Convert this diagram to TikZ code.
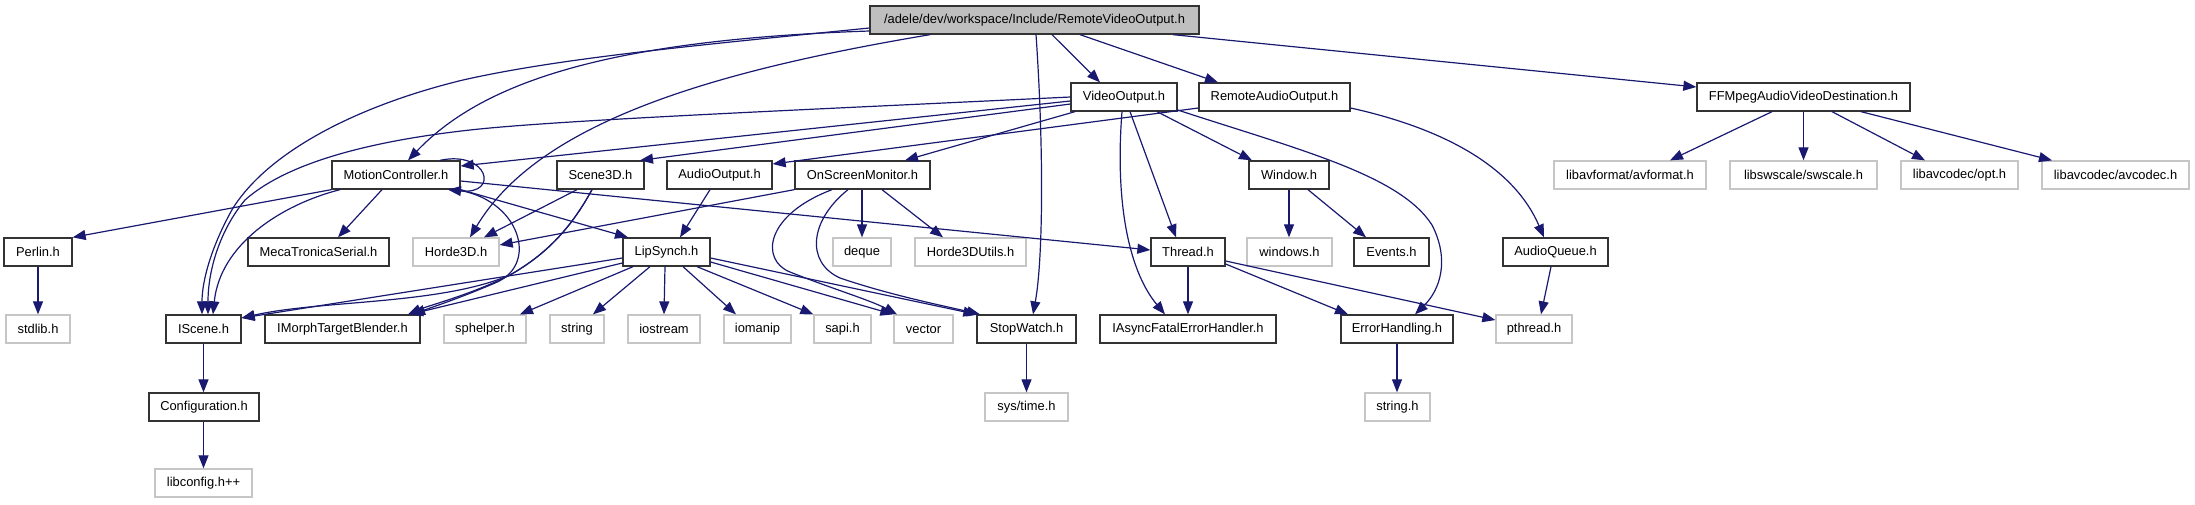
\documentclass[tikz,border=0pt]{standalone}
\usepackage{fontspec}
\setmainfont{Liberation Sans}
\usetikzlibrary{arrows.meta}
\definecolor{edgec}{HTML}{191970}
\definecolor{rootfill}{HTML}{BFBFBF}
\definecolor{graybd}{HTML}{C6C6C6}
\tikzset{
  box/.style={rectangle, inner sep=0pt, minimum height=28pt, line width=1.3pt, font=\fontsize{12.9}{15}\selectfont, text=black},
  nb/.style={box, draw=black!80},
  ng/.style={box, draw=graybd},
  nroot/.style={box, draw=black!80, fill=rootfill},
  e/.style={draw=edgec, line width=1.2pt, -{Triangle[length=13pt,width=10pt]}},
}
\begin{document}
\begin{tikzpicture}[x=1pt,y=-1pt]
\useasboundingbox (0,0) rectangle (2195,504);
% row 1
\node[nroot, minimum width=329pt] (root) at (1034.5,20) {/adele/dev/workspace/Include/RemoteVideoOutput.h};
% row 2
\node[nb, minimum width=106pt] (vo) at (1124,97) {VideoOutput.h};
\node[nb, minimum width=151pt] (rao) at (1274.5,97) {RemoteAudioOutput.h};
\node[nb, minimum width=213pt] (ff) at (1803.5,97) {FFMpegAudioVideoDestination.h};
% row 3
\node[nb, minimum width=128pt] (mc) at (396,175) {MotionController.h};
\node[nb, minimum width=87pt] (s3d) at (600.5,175) {Scene3D.h};
\node[nb, minimum width=105pt] (ao) at (719.5,175) {AudioOutput.h};
\node[nb, minimum width=135pt] (osm) at (862.5,175) {OnScreenMonitor.h};
\node[nb, minimum width=80pt] (win) at (1289,175) {Window.h};
\node[ng, minimum width=152pt] (avf) at (1630,175) {libavformat/avformat.h};
\node[ng, minimum width=147pt] (sws) at (1803.5,175) {libswscale/swscale.h};
\node[ng, minimum width=117pt] (opt) at (1959.5,175) {libavcodec/opt.h};
\node[ng, minimum width=147pt] (avc) at (2115.5,175) {libavcodec/avcodec.h};
% row 4
\node[nb, minimum width=68pt] (perlin) at (38,252) {Perlin.h};
\node[nb, minimum width=141pt] (meca) at (318.5,252) {MecaTronicaSerial.h};
\node[ng, minimum width=86pt] (horde) at (456,252) {Horde3D.h};
\node[nb, minimum width=87pt] (lip) at (666.5,252) {LipSynch.h};
\node[ng, minimum width=58pt] (deque) at (862,252) {deque};
\node[ng, minimum width=111pt] (h3du) at (970.5,252) {Horde3DUtils.h};
\node[nb, minimum width=74pt] (thread) at (1188,252) {Thread.h};
\node[ng, minimum width=85pt] (windows) at (1289.5,252) {windows.h};
\node[nb, minimum width=75pt] (events) at (1391.5,252) {Events.h};
\node[nb, minimum width=105pt] (aq) at (1555.5,252) {AudioQueue.h};
% row 5
\node[ng, minimum width=64pt] (stdlib) at (38,329) {stdlib.h};
\node[nb, minimum width=75pt] (iscene) at (203.5,329) {IScene.h};
\node[nb, minimum width=155pt] (imorph) at (342.5,329) {IMorphTargetBlender.h};
\node[ng, minimum width=82pt] (sphelper) at (485,329) {sphelper.h};
\node[ng, minimum width=54pt] (string) at (577,329) {string};
\node[ng, minimum width=72pt] (iostream) at (664,329) {iostream};
\node[ng, minimum width=67pt] (iomanip) at (757.5,329) {iomanip};
\node[ng, minimum width=57pt] (sapi) at (842.5,329) {sapi.h};
\node[ng, minimum width=59pt] (vector) at (923.5,329) {vector};
\node[nb, minimum width=99pt] (stopwatch) at (1026.5,329) {StopWatch.h};
\node[nb, minimum width=176pt] (iafeh) at (1188,329) {IAsyncFatalErrorHandler.h};
\node[nb, minimum width=112pt] (errh) at (1397,329) {ErrorHandling.h};
\node[ng, minimum width=76pt] (pthread) at (1534,329) {pthread.h};
% row 6
\node[nb, minimum width=110pt] (config) at (204,407) {Configuration.h};
\node[ng, minimum width=83pt] (systime) at (1026.5,407) {sys/time.h};
\node[ng, minimum width=65pt] (stringh) at (1397.5,407) {string.h};
% row 7
\node[ng, minimum width=97pt] (libconfig) at (203.5,483) {libconfig.h++};

% ---- edges from root
\draw[e] (root.south -| 1052,0) -- (vo.north -| 1100,0);
\draw[e] (root.south -| 1080,0) -- (rao.north -| 1218,0);
\draw[e] (root.south -| 1173,0) -- (ff.west |- 0,87);
\draw[e] (root.south -| 1036,0) .. controls (1044,150) and (1043,260) .. (stopwatch.north -| 1033,0);
\draw[e] (root.west |- 0,31) .. controls (600,40) and (480,85) .. (mc.north -| 408,0);
\draw[e] (root.west |- 0,28) .. controls (700,45) and (560,58) .. (463,80) .. controls (360,105) and (270,150) .. (233,208) .. controls (212,245) and (202,280) .. (iscene.north -| 202,0);
\draw[e] (root.south -| 930,0) .. controls (720,70) and (540,120) .. (horde.north -| 470,0);
% ---- VideoOutput
\draw[e] (vo.west |- 0,97) .. controls (800,110) and (560,120) .. (470,130) .. controls (380,140) and (290,160) .. (245,200) .. controls (220,230) and (208,270) .. (iscene.north -| 208,0);
\draw[e] (vo.west |- 0,101) -- (mc.east |- 0,166);
\draw[e] (vo.west |- 0,104) -- (s3d.north -| 640,0);
\draw[e] (vo.south -| 1075,0) -- (osm.north -| 905,0);
\draw[e] (vo.south -| 1130,0) -- (thread.north -| 1176,0);
\draw[e] (vo.south -| 1122,0) .. controls (1115,200) and (1128,270) .. (iafeh.north -| 1165,0);
\draw[e] (vo.south -| 1157,0) -- (win.north -| 1252,0);
\draw[e] (vo.east |- 0,110) .. controls (1300,150) and (1400,175) .. (1432,225) .. controls (1450,260) and (1440,290) .. (errh.north -| 1415,0);
% ---- RemoteAudioOutput
\draw[e] (rao.west |- 0,108) -- (ao.east |- 0,164);
\draw[e] (rao.east |- 0,108) .. controls (1450,130) and (1515,170) .. (aq.north -| 1544,0);
% ---- MotionController
\draw[e] (mc.north -| 440,0) .. controls (488,150) and (500,195) .. (mc.south -| 448,0);
\draw[e] (mc.south -| 340,0) .. controls (280,205) and (220,245) .. (iscene.north -| 213,0);
\draw[e] (mc.south -| 455,0) .. controls (520,198) and (540,265) .. (495,283) .. controls (460,298) and (430,308) .. (imorph.north -| 412,0);
\draw[e] (mc.south east) -- (lip.north -| 628,0);
\draw[e] (mc.east |- 0,181) -- (thread.west |- 0,250);
\draw[e] (mc.south -| 382,0) -- (meca.north -| 338,0);
\draw[e] (mc.south west) -- (perlin.north east);
% ---- Scene3D
\draw[e] (s3d.south -| 577,0) -- (horde.north -| 484,0);
\draw[e] (s3d.south -| 592,0) .. controls (570,230) and (545,255) .. (510,275) .. controls (470,295) and (430,305) .. (imorph.north -| 408,0);
\draw[e] (s3d.south -| 592,0) .. controls (570,230) and (545,255) .. (510,275) .. controls (440,305) and (320,300) .. (iscene.east |- 0,318);
% ---- OnScreenMonitor
\draw[e] (osm.south west) -- (horde.east |- 0,245);
\draw[e] (osm.south -| 862,0) -- (deque.north -| 862,0);
\draw[e] (osm.south -| 882,0) -- (h3du.north -| 943,0);
\draw[e] (osm.south -| 832,0) .. controls (765,215) and (760,260) .. (790,272) .. controls (830,288) and (870,300) .. (vector.north -| 897,0);
\draw[e] (osm.south -| 848,0) .. controls (810,220) and (805,262) .. (840,278) .. controls (890,295) and (940,305) .. (stopwatch.north -| 980,0);
% ---- AudioOutput
\draw[e] (ao.south -| 710,0) -- (lip.north -| 680,0);
% ---- LipSynch
\draw[e] (lip.west |- 0,258) -- (iscene.east |- 0,318);
\draw[e] (lip.west |- 0,263) -- (imorph.north -| 410,0);
\draw[e] (lip.south -| 633,0) -- (sphelper.north -| 520,0);
\draw[e] (lip.south -| 650,0) -- (string.north -| 593,0);
\draw[e] (lip.south -| 665,0) -- (iostream.north -| 664,0);
\draw[e] (lip.south -| 683,0) -- (iomanip.north -| 736,0);
\draw[e] (lip.south -| 697,0) -- (sapi.north west);
\draw[e] (lip.east |- 0,262) -- (vector.north west);
\draw[e] (lip.east |- 0,258) -- (stopwatch.north west);
% ---- others
\draw[e] (win.south -| 1289,0) -- (windows.north -| 1289,0);
\draw[e] (win.south -| 1308,0) -- (events.north -| 1366,0);
\draw[e] (thread.south) -- (iafeh.north -| 1188,0);
\draw[e] (thread.east |- 0,264) -- (errh.north -| 1348,0);
\draw[e] (thread.east |- 0,261) -- (pthread.west |- 0,320);
\draw[e] (aq.south -| 1551,0) -- (pthread.north -| 1541,0);
\draw[e] (errh.south -| 1397,0) -- (stringh.north -| 1397,0);
\draw[e] (stopwatch.south) -- (systime.north);
\draw[e] (iscene.south) -- (config.north -| 203.5,0);
\draw[e] (config.south -| 203.5,0) -- (libconfig.north);
\draw[e] (perlin.south) -- (stdlib.north);
\draw[e] (ff.south -| 1772,0) -- (avf.north -| 1670,0);
\draw[e] (ff.south -| 1803.5,0) -- (sws.north);
\draw[e] (ff.south -| 1832,0) -- (opt.north -| 1925,0);
\draw[e] (ff.south -| 1861,0) -- (avc.north -| 2052,0);
\end{tikzpicture}
\end{document}
